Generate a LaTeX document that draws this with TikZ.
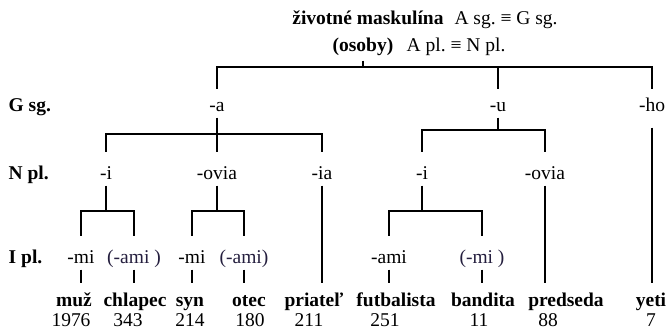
\documentclass[tikz,border=0pt]{standalone}
\usepackage{fontspec}
\setmainfont{Liberation Serif}
\usetikzlibrary{positioning}
\definecolor{optform}{RGB}{36,30,62}
\frenchspacing

\begin{document}
\begin{tikzpicture}[x=1pt,y=-1pt,line width=1.4pt,every node/.style={inner sep=0pt,font=\fontsize{19.5}{23}\selectfont}]
	\tikzstyle{suf} = [anchor=base,text height=26pt,text depth=6pt]
	\tikzstyle{gsuf} = [suf,text height=21pt]
	\tikzstyle{opt} = [suf,text=optform]
	\tikzstyle{case} = [anchor=base west,font=\fontsize{19.5}{23}\selectfont\bfseries]
	\tikzstyle{word} = [anchor=base,text height=22pt,text depth=5pt,font=\fontsize{19.5}{23}\selectfont\bfseries]
	\tikzstyle{freq} = [anchor=base]
	\useasboundingbox (0,0) rectangle (670,330);
	% header
	\node[anchor=base](head)at (425,24){\textbf{životné maskulína}\hspace{11pt}A sg. ≡ G sg.};
	\node[anchor=base,text depth=9pt,font=\fontsize{19.5}{23}\selectfont\bfseries](root)at (363,51){(osoby)};
	\node[base right=12pt of root](eqpl){A pl. ≡ N pl.};
	% case labels
	\node[case](gsg)at (8,111){G sg.};
	\node[case](npl)at (8,179){N pl.};
	\node[case](ipl)at (8,263){I pl.};
	% G sg.
	\node[gsuf](ga)at (217,111){-a};
	\node[gsuf](gu)at (498,111){-u};
	\node[gsuf,text depth=16pt](gho)at (652,111){-ho};
	% N pl.
	\node[suf](ni1)at (106,179){-i};
	\node[suf](novia1)at (217,179){-ovia};
	\node[suf](nia)at (322,179){-ia};
	\node[suf](ni2)at (422,179){-i};
	\node[suf](novia2)at (545,179){-ovia};
	% I pl.
	\node[suf](mi1)at (81,263){-mi};
	\node[opt](ami1)at (134,263){(-ami )};
	\node[suf](mi2)at (192,263){-mi};
	\node[opt](ami2)at (244,263){(-ami)};
	\node[suf](ami3)at (389,263){-ami};
	\node[opt](mi3)at (482,263){(-mi )};
	% words and counts
	\node[word](muz)at (74,306){muž};
	\node[word](chlapec)at (135,306){chlapec};
	\node[word](syn)at (190,306){syn};
	\node[word](otec)at (249,306){otec};
	\node[word](priatel)at (314,306){priateľ};
	\node[word](futbalista)at (396,306){futbalista};
	\node[word](bandita)at (483,306){bandita};
	\node[word](predseda)at (566,306){predseda};
	\node[word](yeti)at (651,306){yeti};
	\node[freq](cmuz)at (71,326){1976};
	\node[freq](cchlapec)at (128,326){343};
	\node[freq](csyn)at (190,326){214};
	\node[freq](cotec)at (250,326){180};
	\node[freq](cpriatel)at (309,326){211};
	\node[freq](cfutbalista)at (385,326){251};
	\node[freq](cbandita)at (479,326){11};
	\node[freq](cpredseda)at (548,326){88};
	\node[freq](cyeti)at (651,326){7};
	% branching points
	\coordinate (b0) at (363,67);
	\coordinate (ba) at (217,134);
	\coordinate (bu) at (498,130);
	\coordinate (bi1) at (106,211);
	\coordinate (bovia) at (217,211);
	\coordinate (bi2) at (422,211);
	\draw (root) -- (b0) -| (ga);
	\draw (b0) -| (gu);
	\draw (b0) -| (gho);
	\draw (ga) -- (ba) -| (ni1);
	\draw (ba) -- (novia1);
	\draw (ba) -| (nia);
	\draw (gu) -- (bu) -| (ni2);
	\draw (bu) -| (novia2);
	\draw (ni1) -- (bi1) -| (mi1);
	\draw (bi1) -| (ami1);
	\draw (novia1) -- (bovia) -| (mi2);
	\draw (bovia) -| (ami2);
	\draw (ni2) -- (bi2) -| (ami3);
	\draw (bi2) -| (mi3);
	\draw (gho) -- (gho |- yeti.north);
	\draw (nia) -- (nia |- priatel.north);
	\draw (novia2) -- (novia2 |- predseda.north);
	\draw (mi1) -- (mi1 |- muz.north);
	\draw (ami1) -- (ami1 |- chlapec.north);
	\draw (mi2) -- (mi2 |- syn.north);
	\draw (ami2) -- (ami2 |- otec.north);
	\draw (ami3) -- (ami3 |- futbalista.north);
	\draw (mi3) -- (mi3 |- bandita.north);
\end{tikzpicture}
\end{document}
